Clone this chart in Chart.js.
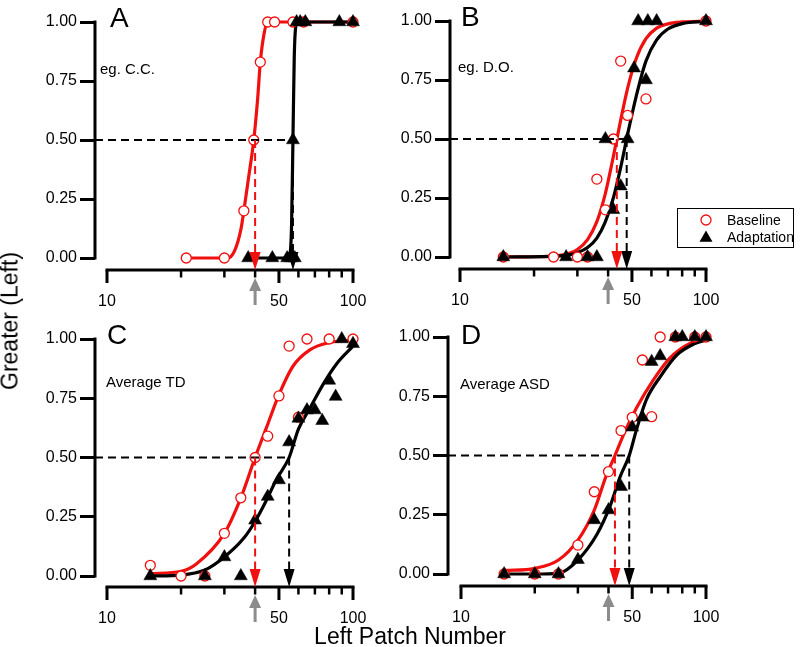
<!DOCTYPE html>
<html><head><meta charset="utf-8">
<script src="https://cdn.jsdelivr.net/npm/chart.js@4.4.1/dist/chart.umd.min.js"></script>
<style>
body{margin:0;background:#fff;width:805px;height:647px;overflow:hidden;position:relative;font-family:"Liberation Sans",Arial,sans-serif;}
canvas{position:absolute;left:0;top:0;}
.t{position:absolute;white-space:nowrap;color:#000;line-height:1;}
</style></head><body>
<canvas id="cA" width="805" height="647"></canvas>
<canvas id="cB" width="805" height="647"></canvas>
<canvas id="cC" width="805" height="647"></canvas>
<canvas id="cD" width="805" height="647"></canvas>

<div class="t" style="left:110px;top:4px;font-size:28px;">A</div>
<div class="t" style="left:461px;top:3px;font-size:28px;">B</div>
<div class="t" style="left:107px;top:321px;font-size:28px;">C</div>
<div class="t" style="left:461px;top:321px;font-size:28px;">D</div>

<div class="t" style="left:100px;top:61px;font-size:15px;" id="nA"></div>
<div class="t" style="left:458px;top:59px;font-size:15px;" id="nB"></div>
<div class="t" style="left:106px;top:374px;font-size:15px;" id="nC"></div>
<div class="t" style="left:460px;top:376px;font-size:15px;" id="nD"></div>

<div class="t" id="xTitle" style="left:410px;top:625px;font-size:23px;transform:translateX(-50%);"></div>
<div class="t" id="yTitle" style="left:10px;top:321px;font-size:23px;transform:translate(-50%,-50%) rotate(-90deg);"></div>

<div style="position:absolute;left:677px;top:208px;width:117px;height:40px;border:1px solid #000;box-sizing:border-box;"></div>
<svg style="position:absolute;left:0;top:0;" width="805" height="647">
  <circle cx="706" cy="220" r="5" fill="#fff" stroke="#f01010" stroke-width="1.3"/>
  <polygon points="706,230.5 712.5,241.75 699.5,241.75" fill="#000"/>
</svg>
<div class="t" id="lg0" style="left:727px;top:213px;font-size:14px;"></div>
<div class="t" id="lg1" style="left:727px;top:230px;font-size:14px;"></div>

<script>
// ---------- data ----------
const panelLetters = ['A', 'B', 'C', 'D'];
const panelNotes = ['eg. C.C.', 'eg. D.O.', 'Average TD', 'Average ASD'];
const seriesNames = ['Baseline', 'Adaptation'];
const xAxisTitle = 'Left Patch Number';
const yAxisTitle = 'Greater (Left)';
const yTicks = [0, 0.25, 0.5, 0.75, 1];
const xTicks = [10, 20, 30, 40, 50, 60, 70, 80, 90, 100];
const xTickLabels = [10, 50, 100];
const criterion = 0.5;
const refNumber = 40;
const pseBaseline = [40, 43.4, 40, 42.5];
const pseAdaptation = [57, 47.6, 55, 48.6];

// Panel A
const baseA_x = [21, 30, 36, 39.5, 42, 45, 48, 57, 63, 100];
const baseA_y = [0, 0, 0.2, 0.5, 0.83, 1, 1, 1, 1, 1];
const adaptA_x = [37.5, 47, 54, 56, 58, 57, 59, 61, 64, 88, 100];
const adaptA_y = [0, 0, 0, 0, 0, 0.5, 1, 1, 1, 1, 1];
const fitBaseA_x = [21, 31, 33, 35, 36, 37.5, 39.5, 41, 42, 43.5, 45, 50, 100];
const fitBaseA_y = [0, 0, 0.03, 0.12, 0.2, 0.33, 0.5, 0.68, 0.83, 0.95, 1, 1, 1];
const fitAdaptA_x = [37.5, 54, 55.5, 56.3, 57, 57.7, 58.5, 59.5, 100];
const fitAdaptA_y = [0, 0, 0.02, 0.15, 0.5, 0.85, 0.98, 1, 1];

// Panel B
const baseB_x = [15, 24, 30, 33, 36, 39, 42, 45, 48, 57, 100];
const baseB_y = [0, 0, 0, 0, 0.33, 0.2, 0.5, 0.83, 0.6, 0.67, 1];
const adaptB_x = [15, 27, 33, 36, 39, 42, 45, 48, 51, 57, 53, 58, 63, 100];
const adaptB_y = [0, 0, 0, 0, 0.5, 0.2, 0.3, 0.5, 0.8, 0.75, 1, 1, 1, 1];
const fitBaseB_x = [15, 20, 25, 28, 30, 33, 36, 39, 42, 45, 48, 52, 57, 63, 70, 80, 100];
const fitBaseB_y = [0, 0.001, 0.006, 0.017, 0.032, 0.074, 0.15, 0.27, 0.425, 0.58, 0.715, 0.84, 0.925, 0.97, 0.988, 0.996, 1];
const fitAdaptB_x = [15, 25, 28, 30, 33, 36, 39, 42, 45, 48, 52, 57, 63, 70, 80, 100];
const fitAdaptB_y = [0, 0.004, 0.01, 0.018, 0.04, 0.08, 0.15, 0.25, 0.38, 0.52, 0.68, 0.83, 0.92, 0.966, 0.989, 0.998];

// Panel C
const baseC_x = [15, 20, 25, 30, 35, 40, 45, 50, 55, 60, 65, 80, 100];
const baseC_y = [0.045, 0, 0, 0.18, 0.33, 0.5, 0.59, 0.76, 0.97, 0.67, 1, 1, 1];
const adaptC_x = [15, 25, 30, 35, 40, 45, 50, 55, 60, 65, 70, 75, 80, 85, 90, 100];
const adaptC_y = [0, 0, 0.08, 0, 0.235, 0.335, 0.405, 0.565, 0.665, 0.7, 0.7, 0.655, 0.825, 0.757, 1, 0.98];
const fitBaseC_x = [15, 20, 23, 30, 35, 40, 45, 50, 57, 67, 80, 100];
const fitBaseC_y = [0.01, 0.02, 0.05, 0.18, 0.33, 0.5, 0.64, 0.765, 0.885, 0.955, 0.985, 0.995];
const fitAdaptC_x = [15, 20, 25, 30, 36, 40, 44, 49, 55, 60, 67, 76, 86, 100];
const fitAdaptC_y = [0, 0.004, 0.025, 0.08, 0.16, 0.23, 0.31, 0.41, 0.5, 0.62, 0.71, 0.813, 0.897, 0.97];

// Panel D
const baseD_x = [15, 20, 25, 30, 35, 40, 45, 50, 55, 60, 65, 75, 90, 100];
const baseD_y = [0, 0, 0, 0.122, 0.347, 0.432, 0.605, 0.661, 0.903, 0.664, 1, 1, 1, 1];
const adaptD_x = [15, 20, 25, 30, 35, 40, 45, 50, 55, 60, 65, 75, 80, 90, 100];
const adaptD_y = [0, 0, 0, 0.06, 0.228, 0.27, 0.368, 0.619, 0.661, 0.896, 0.92, 1, 1, 1, 1];
const fitBaseD_x = [15, 20, 25, 30, 35, 39, 42.5, 47, 52, 61, 71, 86, 100];
const fitBaseD_y = [0.014, 0.024, 0.059, 0.143, 0.27, 0.41, 0.5, 0.608, 0.70, 0.819, 0.91, 0.973, 0.987];
const fitAdaptD_x = [15, 20, 25, 30, 36, 40.5, 44.6, 48.6, 52, 57, 65, 76, 89, 100];
const fitAdaptD_y = [0, 0, 0.003, 0.059, 0.17, 0.284, 0.41, 0.5, 0.608, 0.734, 0.832, 0.924, 0.97, 0.987];

// ---------- styling / layout ----------
const RED = '#f01010';
const GRAY = '#8c8c8c';
const FONT = '"Liberation Sans", Arial, sans-serif';
Chart.defaults.font.family = FONT;
Chart.defaults.color = '#000';

const geom = [
  {yAxisX: 95,  x10: 107, x100: 353, y1: 22,  y0: 258, xAxisY: 270},
  {yAxisX: 450, x10: 460, x100: 706, y1: 21,  y0: 257, xAxisY: 269},
  {yAxisX: 95,  x10: 107, x100: 353, y1: 339, y0: 576, xAxisY: 587},
  {yAxisX: 448, x10: 461, x100: 706, y1: 337, y0: 574, xAxisY: 586}
];

const panels = [
  {bx: baseA_x, by: baseA_y, ax: adaptA_x, ay: adaptA_y, fbx: fitBaseA_x, fby: fitBaseA_y, fax: fitAdaptA_x, fay: fitAdaptA_y},
  {bx: baseB_x, by: baseB_y, ax: adaptB_x, ay: adaptB_y, fbx: fitBaseB_x, fby: fitBaseB_y, fax: fitAdaptB_x, fay: fitAdaptB_y},
  {bx: baseC_x, by: baseC_y, ax: adaptC_x, ay: adaptC_y, fbx: fitBaseC_x, fby: fitBaseC_y, fax: fitAdaptC_x, fay: fitAdaptC_y},
  {bx: baseD_x, by: baseD_y, ax: adaptD_x, ay: adaptD_y, fbx: fitBaseD_x, fby: fitBaseD_y, fax: fitAdaptD_x, fay: fitAdaptD_y}
];

const zip = (xs, ys) => xs.map((x, i) => ({x: x, y: ys[i]}));

const Y_W = 60, X_H = 40;

const psyPlugin = {
  id: 'psy',
  afterDatasetsDraw(chart, args, opts) {
    const ctx = chart.ctx, ca = chart.chartArea, x = chart.scales.x, y = chart.scales.y;
    ctx.save();
    // axes lines
    ctx.strokeStyle = '#000'; ctx.lineWidth = 3; ctx.lineCap = 'butt';
    const py0 = y.getPixelForValue(yTicks[0]), py1 = y.getPixelForValue(yTicks[yTicks.length - 1]);
    ctx.beginPath(); ctx.moveTo(ca.left, py0 + 1.5); ctx.lineTo(ca.left, py1 - 1.5); ctx.stroke();
    const pxa = x.getPixelForValue(xTicks[0]), pxb = x.getPixelForValue(xTicks[xTicks.length - 1]);
    ctx.beginPath(); ctx.moveTo(pxa - 1.5, ca.bottom); ctx.lineTo(pxb + 1.5, ca.bottom); ctx.stroke();
    xTicks.forEach(v => {
      const px = x.getPixelForValue(v);
      const len = xTickLabels.includes(v) ? 13 : 7.5;
      ctx.lineWidth = xTickLabels.includes(v) ? 3 : 2.5;
      ctx.beginPath(); ctx.moveTo(px, ca.bottom); ctx.lineTo(px, ca.bottom + len); ctx.stroke();
    });
    // dashed criterion lines
    const yh = y.getPixelForValue(criterion);
    const pB = x.getPixelForValue(opts.pseB), pA = x.getPixelForValue(opts.pseA);
    const headL = 18, headW = 5.5;
    ctx.lineWidth = 2; ctx.setLineDash([8, 5]);
    ctx.strokeStyle = '#000';
    ctx.beginPath(); ctx.moveTo(ca.left, yh); ctx.lineTo(Math.max(pA, pB), yh); ctx.stroke();
    ctx.beginPath(); ctx.moveTo(pA, yh); ctx.lineTo(pA, ca.bottom - headL + 2); ctx.stroke();
    ctx.strokeStyle = RED;
    ctx.beginPath(); ctx.moveTo(pB, yh); ctx.lineTo(pB, ca.bottom - headL + 2); ctx.stroke();
    ctx.setLineDash([]);
    const head = (px, col) => {
      ctx.fillStyle = col;
      ctx.beginPath();
      ctx.moveTo(px, ca.bottom);
      ctx.lineTo(px - headW, ca.bottom - headL);
      ctx.lineTo(px + headW, ca.bottom - headL);
      ctx.closePath(); ctx.fill();
    };
    head(pA, '#000');
    head(pB, RED);
    // gray reference arrow
    const pr = x.getPixelForValue(opts.ref);
    const tip = ca.bottom + 8;
    ctx.fillStyle = GRAY; ctx.strokeStyle = GRAY; ctx.lineWidth = 3;
    ctx.beginPath(); ctx.moveTo(pr, tip + 11); ctx.lineTo(pr, ca.bottom + 35); ctx.stroke();
    ctx.beginPath();
    ctx.moveTo(pr, tip); ctx.lineTo(pr - 6, tip + 13); ctx.lineTo(pr + 6, tip + 13);
    ctx.closePath(); ctx.fill();
    ctx.restore();
  }
};

function makeChart(id, i) {
  const g = geom[i], d = panels[i];
  const xMin = Math.pow(10, 1 - (g.x10 - g.yAxisX) / (g.x100 - g.x10));
  const yMin = -(g.xAxisY - g.y0) / (g.y0 - g.y1);
  new Chart(document.getElementById(id), {
    type: 'line',
    data: {
      datasets: [
        {label: seriesNames[1], data: zip(d.ax, d.ay), showLine: false, pointStyle: 'triangle', pointRadius: 7.5,
         pointBackgroundColor: '#000', pointBorderColor: '#000', pointBorderWidth: 0.5, order: 1, clip: false},
        {label: seriesNames[0], data: zip(d.bx, d.by), showLine: false, pointStyle: 'circle', pointRadius: 5,
         pointBackgroundColor: '#fff', pointBorderColor: RED, pointBorderWidth: 1.3, order: 2, clip: false},
        {label: seriesNames[1] + ' fit', data: zip(d.fax, d.fay), borderColor: '#000', borderWidth: 3.2, pointRadius: 0,
         cubicInterpolationMode: 'monotone', fill: false, order: 3, clip: false},
        {label: seriesNames[0] + ' fit', data: zip(d.fbx, d.fby), borderColor: RED, borderWidth: 3.2, pointRadius: 0,
         cubicInterpolationMode: 'monotone', fill: false, order: 4, clip: false}
      ]
    },
    options: {
      responsive: false, animation: false, events: [],
      layout: {padding: {left: g.yAxisX - Y_W, right: 805 - g.x100, top: g.y1, bottom: 647 - g.xAxisY - X_H}},
      plugins: {legend: {display: false}, tooltip: {enabled: false},
        psy: {pseB: pseBaseline[i], pseA: pseAdaptation[i], ref: refNumber}},
      scales: {
        x: {
          type: 'logarithmic', min: xMin, max: 100,
          afterFit(s) { s.height = X_H; },
          afterBuildTicks(s) { s.ticks = xTicks.map(v => ({value: v})); },
          ticks: {autoSkip: false, maxRotation: 0, padding: 9, font: {size: 16}, color: '#000',
            callback: (v) => xTickLabels.includes(v) ? String(v) : ''},
          grid: {display: true, drawOnChartArea: false, drawTicks: true, tickLength: 13, color: 'rgba(0,0,0,0)'},
          border: {display: false}
        },
        y: {
          type: 'linear', min: yMin, max: 1,
          afterFit(s) { s.width = Y_W; },
          afterBuildTicks(s) { s.ticks = yTicks.map(v => ({value: v})); },
          ticks: {padding: 3, font: {size: 16}, color: '#000', callback: (v) => Number(v).toFixed(2)},
          grid: {display: true, drawOnChartArea: false, drawTicks: true, tickLength: 15, tickWidth: 3, color: '#000'},
          border: {display: false}
        }
      }
    },
    plugins: [psyPlugin]
  });
}

['cA', 'cB', 'cC', 'cD'].forEach((id, i) => makeChart(id, i));

['nA', 'nB', 'nC', 'nD'].forEach((id, i) => { document.getElementById(id).textContent = panelNotes[i]; });
document.getElementById('xTitle').textContent = xAxisTitle;
document.getElementById('yTitle').textContent = yAxisTitle;
document.getElementById('lg0').textContent = seriesNames[0];
document.getElementById('lg1').textContent = seriesNames[1];
</script>
</body></html>
